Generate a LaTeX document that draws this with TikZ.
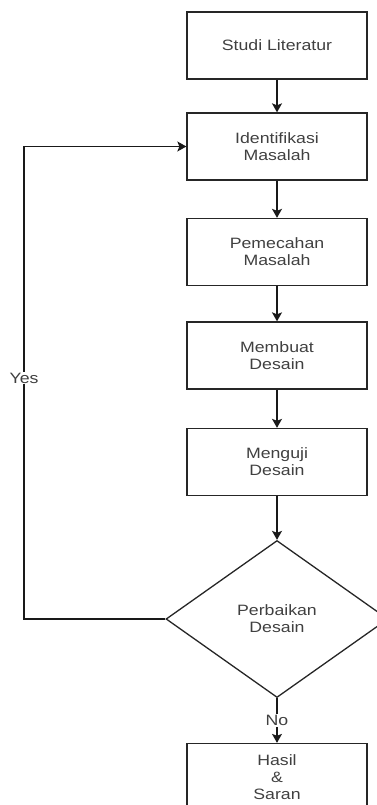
\documentclass[tikz,border=0pt]{standalone}
\usepackage{fontspec}
\setmainfont[FakeStretch=1.18]{Liberation Sans}
\usetikzlibrary{shapes.geometric,arrows.meta}
\begin{document}
\begin{tikzpicture}[x=1pt,y=-1pt,
  every node/.style={font=\fontsize{15}{17}\selectfont, text=black!75},
  box/.style={draw=black!85, line width=1.3pt, minimum width=180pt, minimum height=67pt, align=center, inner sep=0pt},
  dec/.style={draw=black!85, line width=1.3pt, shape=diamond, minimum width=222pt, minimum height=157pt, align=center, inner sep=0pt},
  arr/.style={line width=1.3pt, draw=black!90, -{Stealth[width=10pt,length=9pt,inset=2pt]}},
  lbl/.style={fill=white, inner sep=1pt}]
\useasboundingbox (0,0) rectangle (377,805);
\clip (0,0) rectangle (377,805);
\node[box] (b1) at (277,45.5) {Studi Literatur};
\node[box] (b2) at (277,146.5) {Identifikasi\\Masalah};
\node[box] (b3) at (277,252) {Pemecahan\\Masalah};
\node[box] (b4) at (277,355.5) {Membuat\\Desain};
\node[box] (b5) at (277,462) {Menguji\\Desain};
\node[dec] (d) at (277,619) {Perbaikan\\Desain};
\node[box] (b6) at (277,777) {Hasil\\\&\\Saran};
\coordinate (lb) at (24,619);
\coordinate (lt) at (24,146.5);
\draw[arr] (b1) -- (b2);
\draw[arr] (b2) -- (b3);
\draw[arr] (b3) -- (b4);
\draw[arr] (b4) -- (b5);
\draw[arr] (b5) -- (d);
\draw[arr] (d) -- node[lbl, pos=0.5] (no) {No} (b6);
\draw[arr] (d.west) -- (lb) -- node[lbl, pos=0.51] (yes) {Yes} (lt) -- (b2.west);
\end{tikzpicture}
\end{document}
